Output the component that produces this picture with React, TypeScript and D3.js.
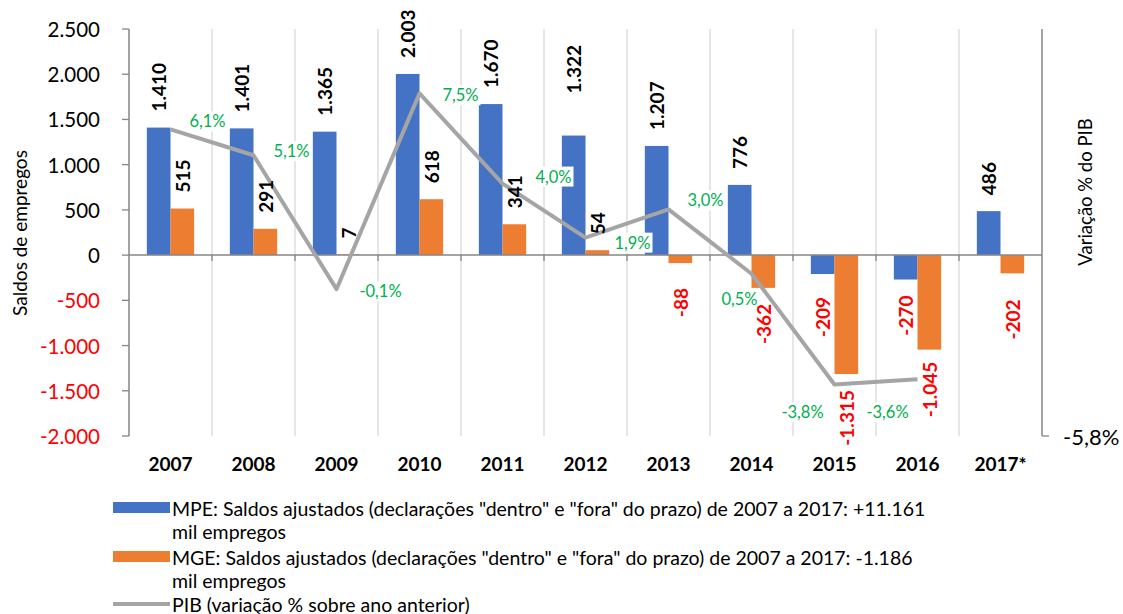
import React from 'react';
import * as d3 from 'd3';

const years = ['2007', '2008', '2009', '2010', '2011', '2012', '2013', '2014', '2015', '2016', '2017*'];
const mpe = [1410, 1401, 1365, 2003, 1670, 1322, 1207, 776, -209, -270, 486];
const mge = [515, 291, 7, 618, 341, 54, -88, -362, -1315, -1045, -202];
const pib = [6.1, 5.1, -0.1, 7.5, 4.0, 1.9, 3.0, 0.5, -3.8, -3.6, null];
const leftTicks = [2500, 2000, 1500, 1000, 500, 0, -500, -1000, -1500, -2000];

// manual placement of labels, as in the original spreadsheet
const pibLabelOffset = [[37, -8], [38, -4], [44, 2], [41, 2], [51, -7], [47, 5], [37, -9], [-12, 25], [-32, 28], [-30, 33]];
const mpeNudge = [0, 0, 0, 0, 0, 26, 0, 0, 7, 0, 0];
const mgeNudge = [0, 0, 0, 0, 0, 0, 9, 0, 0, -4, 10];

const W = 1123, H = 614;
const plot = { left: 129, right: 1042, top: 29, bottom: 436 };
const BLUE = '#4472C4', ORANGE = '#ED7D31', GRAY = '#A5A5A5', AXIS = '#868686';
const GREEN = '#00B050', RED = '#FF0000';
const FONT = 'Lato, "Open Sans", sans-serif';

const fmt = (v: number) => {
  const s = Math.abs(v).toString().replace(/\B(?=(\d{3})+(?!\d))/g, '.');
  return (v < 0 ? '-' : '') + s;
};
const pct = (v: number) => v.toFixed(1).replace('.', ',') + '%';

export default function App() {
  const x = d3.scaleBand().domain(years).range([plot.left, plot.right]);
  const y = d3.scaleLinear().domain([-2000, 2500]).range([plot.bottom, plot.top]);
  const y2 = d3.scaleLinear().domain([-5.8, 10]).range([plot.bottom, plot.top]);
  const bw = x.bandwidth();
  const inner = d3.scaleBand().domain(['mpe', 'mge']).range([bw * 0.215, bw * 0.785]);
  const barW = inner.bandwidth();

  const line = d3.line<number | null>()
    .defined((d) => d !== null)
    .x((_, i) => x(years[i])! + bw / 2)
    .y((d) => y2(d as number));

  const series = [
    { key: 'mpe', vals: mpe, color: BLUE, nudge: mpeNudge },
    { key: 'mge', vals: mge, color: ORANGE, nudge: mgeNudge },
  ];

  return (
    <svg width={W} height={H} style={{ position: 'absolute', left: 0, top: 0, background: '#fff' }} fontFamily={FONT}>
      {/* vertical gridlines */}
      {years.slice(1).map((yr) => (
        <line key={yr} x1={x(yr)} x2={x(yr)} y1={plot.top} y2={plot.bottom} stroke="#D9D9D9" strokeWidth={1.3} />
      ))}

      {/* bars */}
      {series.map((s) => s.vals.map((v, i) => (
        <rect key={s.key + i}
          x={x(years[i])! + inner(s.key)!}
          y={y(Math.max(0, v))}
          width={barW}
          height={Math.abs(y(v) - y(0))}
          fill={s.color} />
      )))}

      {/* zero line with ticks */}
      <line x1={plot.left} x2={plot.right} y1={y(0)} y2={y(0)} stroke={AXIS} strokeWidth={1.5} />
      {years.slice(1).map((yr) => (
        <line key={'t' + yr} x1={x(yr)} x2={x(yr)} y1={y(0)} y2={y(0) + 6} stroke={AXIS} strokeWidth={1.3} />
      ))}

      {/* left axis */}
      <line x1={plot.left} x2={plot.left} y1={plot.top} y2={plot.bottom} stroke={AXIS} strokeWidth={1.5} />
      {leftTicks.map((t) => (
        <g key={t}>
          <line x1={plot.left - 7} x2={plot.left} y1={y(t)} y2={y(t)} stroke={AXIS} strokeWidth={1.3} />
          <text x={100} y={y(t)} textAnchor="end" dominantBaseline="central" fontSize={20.5}
            fill={t < 0 ? RED : '#000'}>{fmt(t)}</text>
        </g>
      ))}
      <text transform={`translate(19,233) rotate(-90)`} textAnchor="middle" dominantBaseline="central" fontSize={19}>
        Saldos de empregos
      </text>

      {/* right axis */}
      <line x1={plot.right} x2={plot.right} y1={plot.top} y2={plot.bottom} stroke={AXIS} strokeWidth={1.5} />
      <line x1={plot.right} x2={plot.right + 7} y1={y2(-5.8)} y2={y2(-5.8)} stroke={AXIS} strokeWidth={1.3} />
      <text x={1063} y={y2(-5.8)} dominantBaseline="central" fontSize={22}>{pct(-5.8)}</text>
      <text transform={`translate(1085,192) rotate(-90)`} textAnchor="middle" dominantBaseline="central" fontSize={18.5}>
        Variação % do PIB
      </text>

      {/* x labels */}
      {years.map((yr) => (
        <text key={'x' + yr} x={x(yr)! + bw / 2} y={463} textAnchor="middle" dominantBaseline="central"
          fontSize={19} fontWeight="bold">{yr}</text>
      ))}

      {/* PIB line */}
      <path d={line(pib) || ''} fill="none" stroke={GRAY} strokeWidth={4} strokeLinejoin="round" />

      {/* PIB labels */}
      {pib.map((v, i) => {
        if (v === null) return null;
        const cx = x(years[i])! + bw / 2 + pibLabelOffset[i][0];
        const cy = y2(v) + pibLabelOffset[i][1];
        const lbl = pct(v);
        const tw = lbl.length * 9;
        return (
          <g key={'p' + i}>
            <rect x={cx - tw / 2 - 2} y={cy - 10} width={tw + 4} height={20} fill="#fff" />
            <text x={cx} y={cy} textAnchor="middle" dominantBaseline="central" fontSize={16.5} fill={GREEN}>{lbl}</text>
          </g>
        );
      })}

      {/* bar labels */}
      {series.map((s) => s.vals.map((v, i) => {
        const cx = x(years[i])! + inner(s.key)! + barW / 2;
        const pos = v >= 0;
        const ay = pos ? y(v) - 16 - s.nudge[i] : y(v) + 16 + s.nudge[i];
        return (
          <text key={'l' + s.key + i}
            transform={`translate(${cx},${ay}) rotate(-90)`}
            textAnchor={pos ? 'start' : 'end'}
            dominantBaseline="central"
            fontSize={19} fontWeight="bold"
            fill={pos ? '#000' : RED}>{fmt(v)}</text>
        );
      }))}

      {/* legend */}
      <rect x={113} y={502} width={57} height={11} fill={BLUE} />
      <text x={172} y={508} dominantBaseline="central" fontSize={19.5}>
        MPE: Saldos ajustados (declarações "dentro" e "fora" do prazo) de 2007 a 2017: +11.161
      </text>
      <text x={172} y={531} dominantBaseline="central" fontSize={19.5}>mil empregos</text>
      <rect x={113} y={551} width={57} height={11} fill={ORANGE} />
      <text x={172} y={557} dominantBaseline="central" fontSize={19.5}>
        MGE: Saldos ajustados (declarações "dentro" e "fora" do prazo) de 2007 a 2017: -1.186
      </text>
      <text x={172} y={580} dominantBaseline="central" fontSize={19.5}>mil empregos</text>
      <line x1={113} x2={170} y1={604} y2={604} stroke={GRAY} strokeWidth={4} />
      <text x={172} y={604} dominantBaseline="central" fontSize={19.5}>PIB (variação % sobre ano anterior)</text>
    </svg>
  );
}
